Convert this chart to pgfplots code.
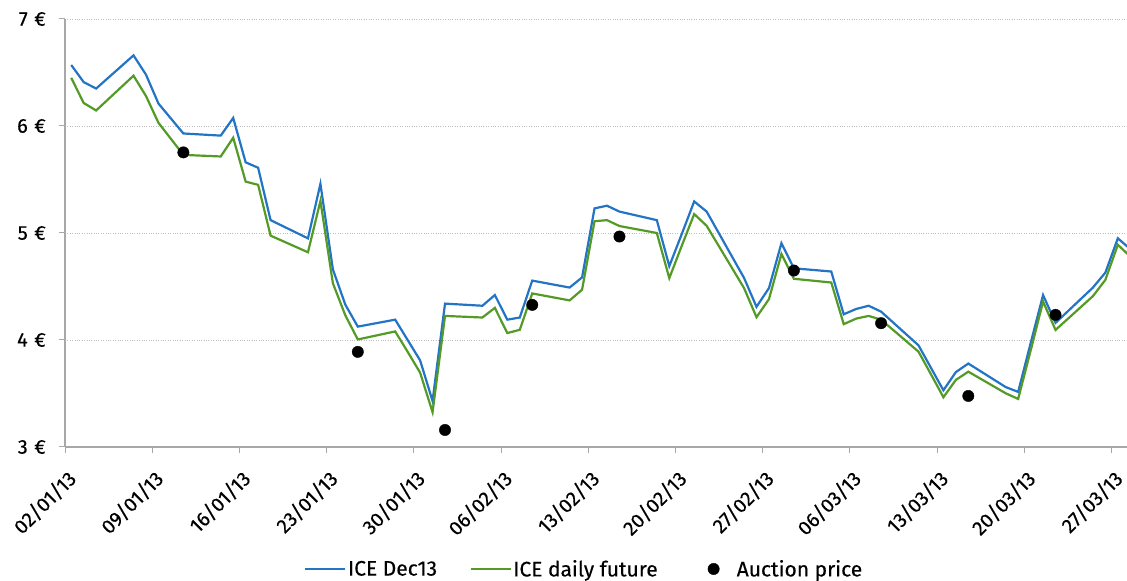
\documentclass[border=0pt]{standalone}
\usepackage{fontspec}
\setmainfont{Fira Sans}
\newfontfamily\chartfont{Fira Sans}[FakeBold=0.35]
\usepackage{pgfplots}
\pgfplotsset{compat=1.18}
\definecolor{iceblue}{RGB}{36,116,198}
\definecolor{icegreen}{RGB}{84,154,38}
\definecolor{axgray}{RGB}{168,168,168}
\definecolor{gridgray}{RGB}{190,190,190}

\pgfplotstableread{
day val
0 6.57
1 6.41
2 6.35
5 6.66
6 6.48
7 6.21
8 6.07
9 5.93
12 5.91
13 6.075
14 5.66
15 5.61
16 5.12
19 4.95
20 5.46
21 4.66
22 4.33
23 4.125
26 4.19
27 4.00
28 3.81
29 3.43
30 4.34
33 4.32
34 4.42
35 4.19
36 4.21
37 4.555
40 4.49
41 4.585
42 5.23
43 5.255
44 5.20
47 5.12
48 4.69
49 4.99
50 5.295
51 5.20
54 4.58
55 4.31
56 4.485
57 4.905
58 4.67
61 4.64
62 4.24
63 4.29
64 4.32
65 4.265
68 3.95
69 3.74
70 3.53
71 3.70
72 3.78
75 3.56
76 3.515
77 3.97
78 4.42
79 4.16
82 4.49
83 4.63
84 4.95
85 4.85
}\dectable

\pgfplotstableread{
day val
0 6.45
1 6.215
2 6.145
5 6.47
6 6.28
7 6.03
8 5.88
9 5.73
12 5.715
13 5.89
14 5.48
15 5.45
16 4.975
19 4.82
20 5.30
21 4.53
22 4.23
23 4.005
26 4.08
27 3.89
28 3.695
29 3.325
30 4.225
33 4.21
34 4.30
35 4.065
36 4.095
37 4.435
40 4.37
41 4.47
42 5.11
43 5.12
44 5.065
47 5.00
48 4.578
49 4.88
50 5.177
51 5.067
54 4.485
55 4.213
56 4.382
57 4.804
58 4.572
61 4.537
62 4.148
63 4.20
64 4.225
65 4.19
68 3.891
69 3.68
70 3.465
71 3.627
72 3.704
75 3.502
76 3.449
77 3.90
78 4.359
79 4.094
82 4.41
83 4.562
84 4.89
85 4.78
}\dailytable

\pgfplotstableread{
day val
9 5.753
23 3.889
30 3.159
37 4.328
44 4.967
58 4.649
65 4.157
72 3.477
79 4.235
}\auctiontable

\begin{document}
\begin{tikzpicture}[x=1bp,y=1bp]
\path[use as bounding box] (0,0) rectangle (1127,581);
\begin{axis}[
  at={(65bp,134bp)}, anchor=south west,
  scale only axis, width=1062bp, height=428bp,
  xmin=-0.5, xmax=84.74, ymin=3, ymax=7,
  axis lines*=left,
  axis line style={axgray, line width=1.3bp, -},
  tick align=outside, major tick length=6bp,
  tick style={axgray, line width=1bp},
  xtick={-0.5,6.5,13.5,20.5,27.5,34.5,41.5,48.5,55.5,62.5,69.5,76.5,83.5},
  xticklabels={02/01/13,09/01/13,16/01/13,23/01/13,30/01/13,06/02/13,13/02/13,20/02/13,27/02/13,06/03/13,13/03/13,20/03/13,27/03/13},
  ytick={3,4,5,6,7},
  yticklabels={},
  ymajorgrids,
  grid style={gridgray, dotted, line width=0.9bp},
  ticklabel style={font=\chartfont\fontsize{20bp}{22bp}\selectfont, black},
  xticklabel style={xshift=7.6bp, yshift=-22bp, rotate=45, anchor=east, inner sep=0pt},
  legend style={at={(0.4887,-0.285)}, anchor=center, draw=none, fill=none,
    inner sep=0pt, font=\chartfont\fontsize{21bp}{22bp}\selectfont,
    legend columns=3,
    /tikz/every even column/.append style={column sep=31bp},
    nodes={inner sep=1.5bp, anchor=west}},
  clip=true,
]
\addplot[iceblue, line width=2.2bp, mark=none,
  legend image code/.code={\draw[iceblue, line width=2.2bp] (0bp,0bp) -- (40bp,0bp);}]
  table[x=day, y=val] {\dectable};
\addlegendentry{ICE Dec13}
\addplot[icegreen, line width=2.2bp, mark=none,
  legend image code/.code={\draw[icegreen, line width=2.2bp] (0bp,0bp) -- (40bp,0bp);}]
  table[x=day, y=val] {\dailytable};
\addlegendentry{ICE daily future}
\addplot[only marks, mark=*, mark size=5.7bp, black,
  legend image code/.code={\path[draw=none] (0bp,0bp) -- (45bp,0bp); \fill[black] (23.4bp,0bp) circle (5.7bp);}]
  table[x=day, y=val] {\auctiontable};
\addlegendentry{Auction price}
\end{axis}
\foreach \v in {3,4,5,6,7} {
  \node[anchor=east, inner sep=0pt, font=\chartfont\fontsize{20bp}{22bp}\selectfont]
    at (46, {134+(\v-3)*107}) {\v\hspace{6.5bp}€};
}
\end{tikzpicture}
\end{document}
